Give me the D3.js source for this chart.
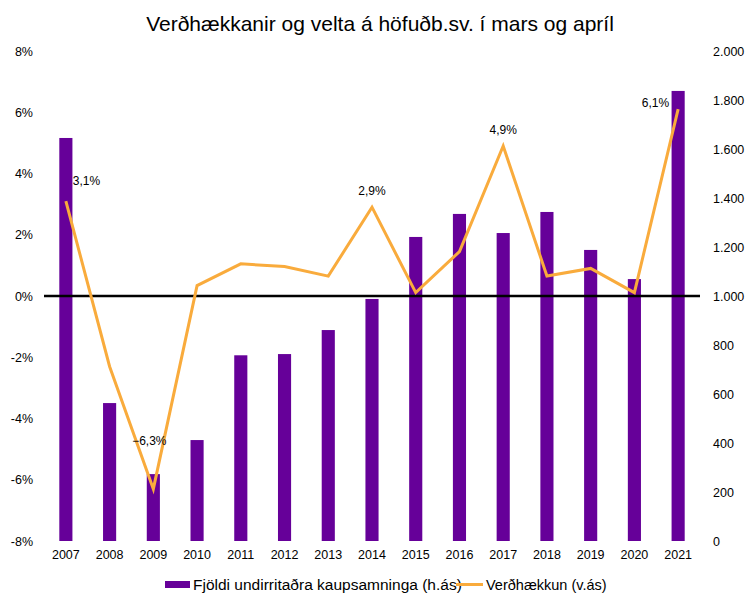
<!DOCTYPE html>
<html>
<head>
<meta charset="UTF-8">
<title>Verðhækkanir og velta</title>
<style>
body { margin: 0; background: #fff; }
svg { display: block; }
.tick text { font-family: "Liberation Sans", Arial, sans-serif; font-size: 12.5px; fill: #000; }
</style>
</head>
<body>
<svg width="756" height="605"></svg>

<script src="https://d3js.org/d3.v7.min.js"></script>
<script>
// data
const years = ["2007","2008","2009","2010","2011","2012","2013","2014","2015","2016","2017","2018","2019","2020","2021"];
const contracts = [1645, 563, 273, 412, 758, 763, 861, 988, 1241, 1335, 1257, 1343, 1188, 1069, 1837];
const priceChange = [3.1, -2.3, -6.3, 0.34, 1.05, 0.96, 0.65, 2.9, 0.11, 1.45, 4.9, 0.65, 0.9, 0.11, 6.1];
const leftTicks = [-8, -6, -4, -2, 0, 2, 4, 6, 8];
const rightTicks = [0, 200, 400, 600, 800, 1000, 1200, 1400, 1600, 1800, 2000];
// which points get a value label
const labelled = ["2007", "2009", "2014", "2017", "2021"];

const purple = "#660099", orange = "#F9AB3C";
const numFmt = d3.formatLocale({decimal: ",", thousands: ".", grouping: [3], currency: ["", ""]});

let svg = d3.select("svg");

let x = d3.scaleBand().domain(years).range([44, 700]);
let yL = d3.scaleLinear().domain([-8, 8]).range([541, 51]);
let yR = d3.scaleLinear().domain([0, 2000]).range([541, 51]);

// title
svg.append("text")
  .attr("x", 380).attr("y", 31)
  .attr("text-anchor", "middle")
  .style("font-family", "'Liberation Sans', Arial, sans-serif")
  .style("font-size", "21px")
  .text("Verðhækkanir  og velta á höfuðb.sv. í mars og apríl");

// axes
svg.append("g")
  .attr("transform", "translate(44,0)")
  .call(d3.axisLeft(yL).tickValues(leftTicks).tickSize(0).tickPadding(11).tickFormat(d => d + "%"))
  .call(g => g.select(".domain").remove());

svg.append("g")
  .attr("transform", "translate(700,0)")
  .call(d3.axisRight(yR).tickValues(rightTicks).tickSize(0).tickPadding(13).tickFormat(numFmt.format(",")))
  .call(g => g.select(".domain").remove());

svg.append("g")
  .attr("transform", "translate(0,541)")
  .call(d3.axisBottom(x).tickSize(0).tickPadding(9))
  .call(g => g.select(".domain").remove());

// bars (right axis)
let bw = x.bandwidth() * 0.3;
svg.append("g")
  .selectAll("rect")
  .data(years)
  .join("rect")
  .attr("x", (d) => x(d) + x.bandwidth() / 2 - bw / 2)
  .attr("width", bw)
  .attr("y", (d, i) => yR(contracts[i]))
  .attr("height", (d, i) => yR(0) - yR(contracts[i]))
  .attr("fill", purple);

// zero line
svg.append("line")
  .attr("x1", 44).attr("x2", 700)
  .attr("y1", yL(0)).attr("y2", yL(0))
  .attr("stroke", "#000")
  .attr("stroke-width", 2.5);

// price line (left axis)
let line = d3.line()
  .x((d, i) => x(years[i]) + x.bandwidth() / 2)
  .y(d => yL(d));

svg.append("path")
  .datum(priceChange)
  .attr("d", line)
  .attr("fill", "none")
  .attr("stroke", orange)
  .attr("stroke-width", 3)
  .attr("stroke-linejoin", "miter");

// value labels
let offsets = {
  "2007": {dx: 7, dy: -16, anchor: "start"},
  "2009": {dx: -4, dy: -44, anchor: "middle"},
  "2014": {dx: 0, dy: -12, anchor: "middle"},
  "2017": {dx: 0, dy: -12, anchor: "middle"},
  "2021": {dx: -9, dy: -2, anchor: "end"}
};
svg.append("g")
  .selectAll("text")
  .data(labelled)
  .join("text")
  .attr("x", d => x(d) + x.bandwidth() / 2 + offsets[d].dx)
  .attr("y", d => yL(priceChange[years.indexOf(d)]) + offsets[d].dy)
  .attr("text-anchor", d => offsets[d].anchor)
  .style("font-family", "'Liberation Sans', Arial, sans-serif")
  .style("font-size", "12px")
  .text(d => numFmt.format(".1f")(priceChange[years.indexOf(d)]) + "%");

// legend
let legend = svg.append("g")
  .style("font-family", "'Liberation Sans', Arial, sans-serif")
  .style("font-size", "15.5px");
legend.append("rect")
  .attr("x", 165).attr("y", 581).attr("width", 25).attr("height", 7)
  .attr("fill", purple);
legend.append("text")
  .attr("x", 193).attr("y", 590)
  .text("Fjöldi undirritaðra kaupsamninga (h.ás)");
legend.append("line")
  .attr("x1", 456).attr("x2", 483).attr("y1", 584.5).attr("y2", 584.5)
  .attr("stroke", orange).attr("stroke-width", 3);
legend.append("text")
  .attr("x", 486).attr("y", 590)
  .style("font-size", "14.5px")
  .text("Verðhækkun (v.ás)");
</script>
</body>
</html>
